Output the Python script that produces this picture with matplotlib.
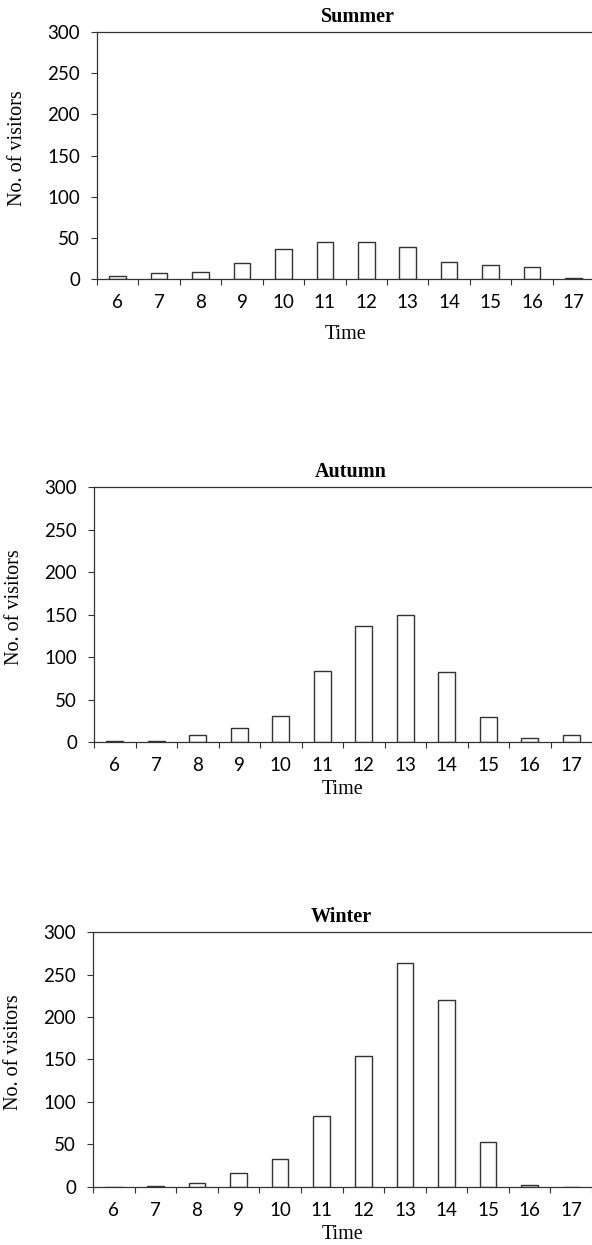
import matplotlib
matplotlib.use("Agg")
import matplotlib.pyplot as plt
import numpy as np
from matplotlib.ticker import FixedLocator

hours = [6, 7, 8, 9, 10, 11, 12, 13, 14, 15, 16, 17]
summer = [4, 7, 9, 20, 37, 45, 45, 39, 21, 17, 14, 1.5]
autumn = [1, 1, 8, 17, 31, 83, 136, 150, 82, 30, 4.5, 8]
winter = [0, 1, 5, 16, 33, 83, 154, 263, 220, 53, 2, 0]

seasons = ["Summer", "Autumn", "Winter"]
counts = [summer, autumn, winter]

# axes boxes in figure fraction (left, bottom, width, height)
boxes = [
    (0.1639, 0.7759, 0.8395, 0.1984),
    (0.1588, 0.4040, 0.8412, 0.2048),
    (0.1571, 0.0466, 0.8429, 0.2048),
]
title_x = [0.525, 0.516, 0.497]
xlabel_y = [-0.186, -0.149, -0.149]

serif = "Liberation Serif"
sans = "Lato"
edge = "#333333"

fig = plt.figure(figsize=(5.92, 12.45), dpi=100)

for i, season in enumerate(seasons):
    ax = fig.add_axes(boxes[i])
    x = np.arange(len(hours))
    ax.bar(x, counts[i], width=0.4, color="white", edgecolor=edge, linewidth=1.0)

    ax.set_xlim(-0.5, len(hours) - 0.5)
    ax.set_ylim(0, 300)
    ax.set_yticks([0, 50, 100, 150, 200, 250, 300])

    ax.set_xticks(x)
    ax.set_xticklabels([str(h) for h in hours], fontfamily=sans, fontsize=13.5)
    ax.xaxis.set_minor_locator(FixedLocator(np.arange(len(hours) + 1) - 0.5))
    ax.tick_params(axis="x", which="major", length=0, pad=11)
    ax.tick_params(axis="x", which="minor", length=4.6, width=0.8, color=edge, direction="out")
    ax.tick_params(axis="y", length=4.6, width=0.8, color=edge, pad=7.6)
    for lab in ax.get_yticklabels():
        lab.set_fontfamily(sans)
        lab.set_fontsize(13.5)

    for s in ["left", "top", "bottom"]:
        ax.spines[s].set_color(edge)
        ax.spines[s].set_linewidth(0.9)
    ax.spines["right"].set_visible(False)

    ax.set_ylabel("No. of visitors", fontfamily=serif, fontsize=14.5)
    ax.yaxis.set_label_coords(-0.14, 0.53)
    ax.set_xlabel("Time", fontfamily=serif, fontsize=14.5)
    ax.xaxis.set_label_coords(0.5, xlabel_y[i])

    ax.text(title_x[i], 1.02, season, transform=ax.transAxes, ha="center", va="bottom",
            fontfamily=serif, fontweight="bold", fontsize=14.5)

fig.savefig("out.png", dpi=100)
